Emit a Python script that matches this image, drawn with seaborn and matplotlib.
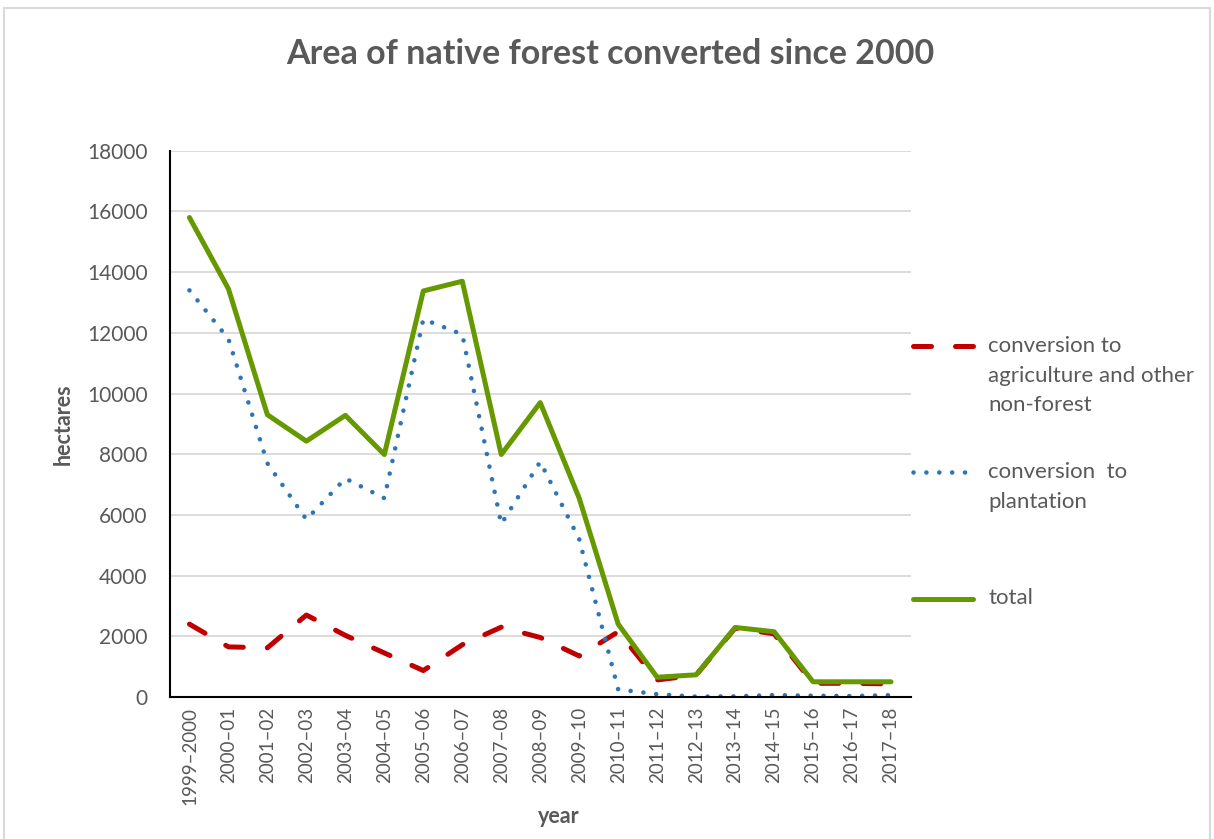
import pandas as pd
import matplotlib.pyplot as plt
import seaborn as sns
from matplotlib.patches import Rectangle

# values (hectares)
years = ["1999–2000", "2000–01", "2001–02", "2002–03", "2003–04", "2004–05",
         "2005–06", "2006–07", "2007–08", "2008–09", "2009–10", "2010–11",
         "2011–12", "2012–13", "2013–14", "2014–15", "2015–16", "2016–17", "2017–18"]
agriculture = [2400, 1650, 1620, 2700, 2030, 1450, 870, 1720, 2300, 1960,
               1350, 2150, 560, 720, 2270, 2080, 450, 450, 430]
plantation = [13400, 11800, 7700, 5850, 7200, 6550, 12450, 11950, 5700, 7750,
              5200, 250, 90, 10, 20, 60, 40, 30, 60]
total = [15800, 13450, 9300, 8430, 9280, 7990, 13380, 13700, 7990, 9700,
         6550, 2400, 650, 730, 2290, 2150, 500, 500, 500]

df = pd.DataFrame({"year": years, "agri": agriculture,
                   "plant": plantation, "total": total})

sns.set_style("white")
plt.rcParams["font.family"] = ["Lato", "DejaVu Sans"]
plt.rcParams["lines.dash_capstyle"] = "round"
plt.rcParams["lines.solid_capstyle"] = "round"

grey = "#595959"

fig = plt.figure(figsize=(12.14, 8.39), dpi=100)
ax = fig.add_axes([0.140, 0.1693, 0.610, 0.651])

# light border around the whole chart
fig.patches.append(Rectangle((0.003, -0.01), 0.994, 1.0, transform=fig.transFigure,
                             fill=False, edgecolor="#D9D9D9", lw=1.5))

# blank lines in labels keep each legend handle level with the first text line
sns.lineplot(data=df, x="year", y="agri", ax=ax, color="#C00000", lw=3.6,
             linestyle=(0, (3.6, 4.8)), sort=False,
             label="\n\nconversion to\nagriculture and other\nnon-forest")
sns.lineplot(data=df, x="year", y="plant", ax=ax, color="#2E75B6", lw=3.3,
             linestyle=(0, (0.01, 2.8)), sort=False,
             label="\nconversion  to\nplantation")
sns.lineplot(data=df, x="year", y="total", ax=ax, color="#669900", lw=3.6,
             sort=False, label="\n\ntotal\n\n")

ax.set_ylim(0, 18000)
ax.set_yticks(range(0, 18001, 2000))
ax.set_xlim(-0.5, len(years) - 0.5)
ax.yaxis.grid(True, color="#D9D9D9", lw=1.3)
ax.xaxis.grid(False)
for s in ["top", "right"]:
    ax.spines[s].set_visible(False)
for s in ["left", "bottom"]:
    ax.spines[s].set_color("black")
    ax.spines[s].set_linewidth(1.5)

ax.tick_params(axis="y", length=0, labelsize=15, labelcolor=grey, pad=16)
ax.tick_params(axis="x", length=0, labelsize=13.5, labelcolor=grey, pad=7,
               labelrotation=90)

ax.set_ylabel("hectares", fontsize=15.5, fontweight="bold", color=grey)
ax.set_xlabel("year", fontsize=15.5, fontweight="bold", color=grey)
ax.yaxis.set_label_coords(-0.13, 0.5)
ax.xaxis.set_label_coords(0.525, -0.2)

fig.text(0.503, 0.936, "Area of native forest converted since 2000",
         ha="center", va="center", fontsize=24.5, fontweight="bold", color=grey)

leg = ax.legend(loc="upper left", bbox_to_anchor=(0.752, 0.67),
                bbox_transform=fig.transFigure, frameon=False, fontsize=16,
                handlelength=2.7, handletextpad=0.7, labelspacing=0.78,
                borderpad=0, borderaxespad=0)
for t in leg.get_texts():
    t.set_color(grey)
    t.set_linespacing(1.6)

fig.savefig("out.png", dpi=100)
